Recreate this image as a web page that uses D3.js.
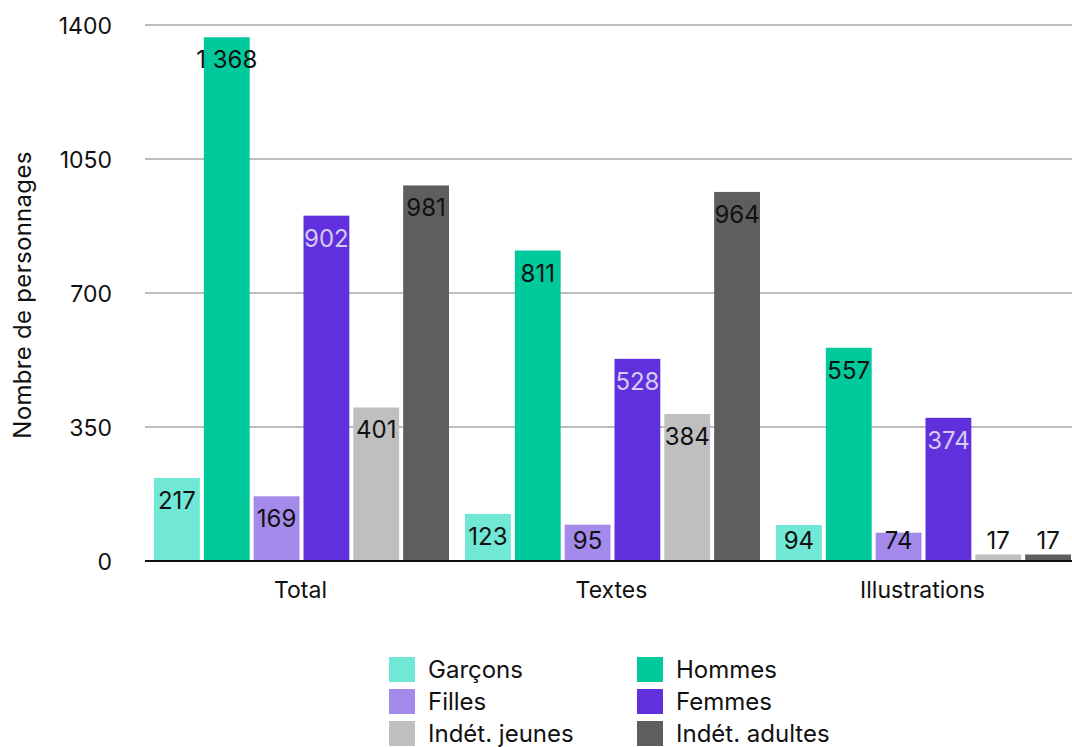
<!DOCTYPE html>
<html><head><meta charset="utf-8">
<script src="https://cdn.jsdelivr.net/npm/d3@7"></script>
<style>body{margin:0;background:#fff}svg{display:block}</style>
</head><body>
<svg id="c" width="1072" height="747"></svg>
<script>
const categories = ["Total", "Textes", "Illustrations"];
const seriesNames = ["Garçons", "Hommes", "Filles", "Femmes", "Indét. jeunes", "Indét. adultes"];
const garcons = [217, 123, 94];
const hommes = [1368, 811, 557];
const filles = [169, 95, 74];
const femmes = [902, 528, 374];
const indetJeunes = [401, 384, 17];
const indetAdultes = [981, 964, 17];
const yTicks = [0, 350, 700, 1050, 1400];
const colors = ["#70e8d5", "#00c99c", "#a48beb", "#6130dd", "#bfbfbf", "#5e5e5e"];
const labelColors = ["#111", "#111", "#111", "#d4cbf5", "#111", "#111"];

const seriesValues = [garcons, hommes, filles, femmes, indetJeunes, indetAdultes];
const FONT = "Inter, 'Noto Sans', sans-serif";
const svg = d3.select("#c");
const fmt = v => v >= 1000 ? d3.format(",")(v).replace(",", " ") : String(v);

const x0 = d3.scaleBand().domain(categories).range([145, 1078]).padding(0);
const x1 = d3.scaleBand().domain(seriesNames).range([9, 304]).paddingInner(0.08).paddingOuter(0);
const y = d3.scaleLinear().domain([0, 1400]).range([561, 25]);

// grid
const grid = svg.append("g");
grid.selectAll("line").data(yTicks.filter(t => t > 0)).join("line")
  .attr("x1", 145).attr("x2", 1072)
  .attr("y1", d => y(d)).attr("y2", d => y(d))
  .attr("stroke", "#bdbdbd").attr("stroke-width", 2);

// y axis labels
const yAxis = svg.append("g").attr("transform", "translate(112,0)")
  .call(d3.axisLeft(y).tickValues(yTicks).tickSize(0).tickPadding(0).tickFormat(d => String(d)));
yAxis.select(".domain").remove();
yAxis.selectAll("text").attr("font-family", FONT).attr("font-size", 23).attr("fill", "#111").attr("dy", "0.35em");

// bars
const groups = svg.append("g").selectAll("g").data(categories).join("g")
  .attr("transform", d => `translate(${x0(d)},0)`);
groups.each(function(cat, ci) {
  const g = d3.select(this);
  const data = seriesNames.map((s, si) => ({s, si, v: seriesValues[si][ci]}));
  g.selectAll("rect").data(data).join("rect")
    .attr("x", d => x1(d.s)).attr("width", x1.bandwidth())
    .attr("y", d => y(d.v)).attr("height", d => y(0) - y(d.v))
    .attr("fill", d => colors[d.si]);
  g.selectAll("text").data(data).join("text")
    .attr("x", d => x1(d.s) + x1.bandwidth() / 2)
    .attr("y", d => Math.min(y(d.v) + 31, y(0) - 12))
    .attr("text-anchor", "middle")
    .attr("font-family", FONT).attr("font-size", 24)
    .attr("fill", d => labelColors[d.si])
    .text(d => fmt(d.v));
});

// baseline
svg.append("line").attr("x1", 145).attr("x2", 1072).attr("y1", y(0)).attr("y2", y(0))
  .attr("stroke", "#111").attr("stroke-width", 2);

// x axis labels
const xAxis = svg.append("g").attr("transform", `translate(0,${y(0)})`)
  .call(d3.axisBottom(x0).tickSize(0).tickPadding(0));
xAxis.select(".domain").remove();
xAxis.selectAll("text").attr("font-family", FONT).attr("font-size", 23).attr("fill", "#111")
  .attr("dy", 0).attr("y", 37);

// y title
svg.append("text").attr("transform", "translate(31,295) rotate(-90)")
  .attr("text-anchor", "middle").attr("font-family", FONT).attr("font-size", 24).attr("fill", "#111")
  .attr("letter-spacing", 0.3)
  .text("Nombre de personnages");

// legend
const legend = svg.append("g");
const legendItems = seriesNames.map((s, i) => ({s, i, col: i % 2, row: Math.floor(i / 2)}));
const lg = legend.selectAll("g").data(legendItems).join("g")
  .attr("transform", d => `translate(${d.col ? 637 : 389},${657 + d.row * 32})`);
lg.append("rect").attr("width", 26).attr("height", 25).attr("fill", d => colors[d.i]);
lg.append("text").attr("x", 39).attr("y", 21).attr("font-family", FONT).attr("font-size", 24)
  .attr("fill", "#111").text(d => d.s);
</script>
</body></html>
